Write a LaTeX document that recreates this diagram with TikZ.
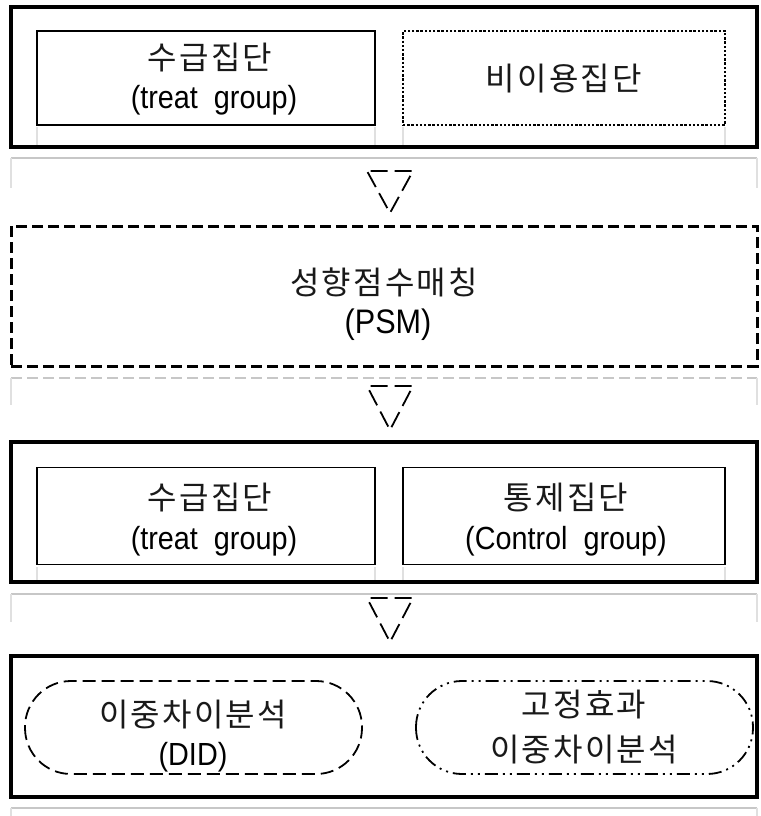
\documentclass[tikz,border=0pt]{standalone}
\usepackage{fontspec}
\setmainfont{Liberation Sans}[FakeStretch=0.9]
\newfontfamily\kr{Noto Sans CJK KR}[LetterSpace=7]
\begin{document}
\begin{tikzpicture}[x=1pt,y=-1pt,
  outerbox/.style={draw=black,line width=3.5pt},
  innerbox/.style={draw=black,line width=1.6pt},
  dotbox/.style={draw=black,line width=2.6pt,dash pattern=on 2.4pt off 1.8pt},
  dashbox/.style={draw=black,line width=3pt,dash pattern=on 11pt off 5pt},
  arrowtri/.style={draw=black,line width=1.8pt,dash pattern=on 17pt off 7pt,dash phase=20.5pt,line join=miter},
  ovaldash/.style={draw=black,line width=1.8pt,rounded corners=46pt,dash pattern=on 13pt off 6pt},
  ovaldashdot/.style={draw=black,line width=1.8pt,rounded corners=46pt,dash pattern=on 13pt off 5pt on 2pt off 5pt on 2pt off 5pt},
  refl/.style={draw=black!22,line width=2pt},
  reflf/.style={draw=black!12,line width=1.5pt},
  txt/.style={align=center,font=\fontsize{32}{43}\selectfont,inner sep=0pt},
  krtxt/.style={align=center,font=\fontsize{32}{43}\selectfont\kr,inner sep=0pt,text=black!90}
]
\useasboundingbox (0,0) rectangle (760,816);

% ---- reflections (faint) ----
\draw[reflf] (37,127) -- (37,147) (375,127) -- (375,147) (403,127) -- (403,147) (725,127) -- (725,147);
\draw[refl] (11,158) -- (757,158);
\draw[reflf] (11,158) -- (11,188) (757,158) -- (757,188);
\draw[refl,dash pattern=on 11pt off 5pt] (11,378) -- (757,378);
\draw[reflf] (11,378) -- (11,405) (757,378) -- (757,405);
\draw[reflf] (37,567) -- (37,582) (375,567) -- (375,582) (403,567) -- (403,582) (725,567) -- (725,582);
\draw[refl] (11,594) -- (757,594);
\draw[reflf] (11,594) -- (11,622) (757,594) -- (757,622);
\draw[refl] (11,808) -- (757,808);
\draw[reflf] (11,808) -- (11,816) (757,808) -- (757,816);

% ---- stage 1 ----
\node[outerbox,minimum width=746pt,minimum height=140pt,inner sep=0pt] (s1) at (384,77) {};
\node[innerbox,minimum width=338pt,minimum height=94pt,inner sep=0pt] (t1) at (206,78) {};
\node[dotbox,minimum width=322pt,minimum height=94pt,inner sep=0pt] (n1) at (564,78) {};
\node[krtxt] (t1a) at (210,58) {수급집단};
\node[txt] (t1b) at (214,100) {(treat\ \ group)};
\node[krtxt] (n1a) at (564,79) {비이용집단};

% ---- arrow 1 ----
\coordinate (a1l) at (367,171);
\coordinate (a1r) at (413,171);
\coordinate (a1b) at (390,213);
\draw[arrowtri] (a1l) -- (a1r) -- (a1b) -- cycle;

% ---- stage 2 ----
\node[dashbox,minimum width=746pt,minimum height=140pt,inner sep=0pt] (s2) at (384,296) {};
\node[krtxt] (s2a) at (384,282) {성향점수매칭};
\node[txt,font=\fontsize{34}{43}\selectfont] (s2b) at (388,325) {(PSM)};

% ---- arrow 2 ----
\coordinate (a2l) at (367,386);
\coordinate (a2r) at (413,386);
\coordinate (a2b) at (390,430);
\draw[arrowtri] (a2l) -- (a2r) -- (a2b) -- cycle;

% ---- stage 3 ----
\node[outerbox,minimum width=746pt,minimum height=140pt,inner sep=0pt] (s3) at (384,512) {};
\node[innerbox,minimum width=338pt,minimum height=97pt,inner sep=0pt] (t3) at (206,516) {};
\node[innerbox,minimum width=322pt,minimum height=97pt,inner sep=0pt] (c3) at (564,516) {};
\node[krtxt] (t3a) at (210,498) {수급집단};
\node[txt] (t3b) at (214,541) {(treat\ \ group)};
\node[krtxt] (c3a) at (566,498) {통제집단};
\node[txt] (c3b) at (566,541) {(Control\ \ group)};

% ---- arrow 3 ----
\coordinate (a3l) at (367,598);
\coordinate (a3r) at (413,598);
\coordinate (a3b) at (390,642);
\draw[arrowtri] (a3l) -- (a3r) -- (a3b) -- cycle;

% ---- stage 4 ----
\node[outerbox,minimum width=746pt,minimum height=141pt,inner sep=0pt] (s4) at (384,726.5) {};
\draw[ovaldash] (25,681) rectangle (362,774);
\draw[ovaldashdot] (416,681) rectangle (753,774);
\node[krtxt] (d4a) at (193,715) {이중차이분석};
\node[txt] (d4b) at (193,757) {(DID)};
\node[krtxt] (f4a) at (584,705) {고정효과};
\node[krtxt] (f4b) at (584,750) {이중차이분석};
\end{tikzpicture}
\end{document}
